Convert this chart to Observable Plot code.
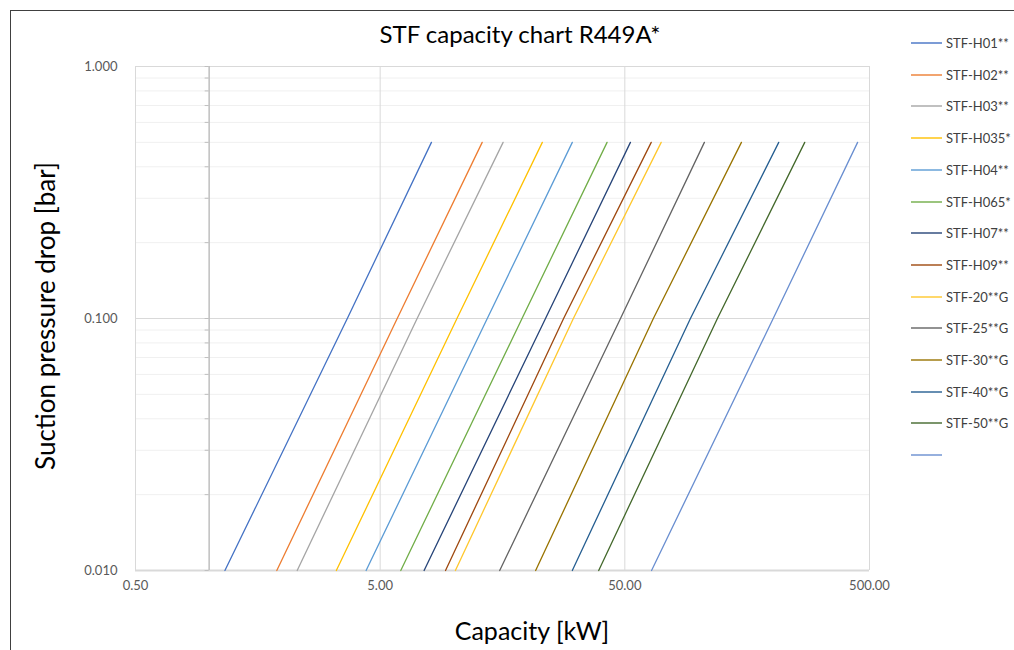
<!DOCTYPE html>
<html>
<head>
<meta charset="utf-8">
<script src="https://cdn.jsdelivr.net/npm/d3@7"></script>
<script src="https://cdn.jsdelivr.net/npm/@observablehq/plot@0.6"></script>
<style>
  html, body { margin: 0; padding: 0; background: #fff; }
  body { width: 1014px; height: 650px; position: relative; overflow: hidden; font-family: Lato, "Open Sans", sans-serif; }
  #frame { position: absolute; left: 10px; top: 10px; width: 1100px; height: 700px; border-left: 1.5px solid #404040; border-top: 1.5px solid #404040; }
  #chart { position: absolute; left: 0; top: 0; }
  #title { position: absolute; left: 0; width: 1040px; top: 19px; text-align: center; font-size: 24px; color: #000; }
  #ytitle { position: absolute; left: 45px; top: 316px; transform: translate(-50%, -50%) rotate(-90deg); white-space: nowrap; font-size: 26px; color: #000; }
  #xtitle { position: absolute; left: 532px; top: 630px; transform: translate(-50%, -50%); white-space: nowrap; font-size: 25px; color: #000; }
  #legend { position: absolute; left: 911px; top: 0; }
  .item { position: absolute; left: 0; height: 16px; white-space: nowrap; font-size: 13px; color: #404040; }
  .item svg { position: absolute; left: 0; top: 6px; }
  .item .lb { position: absolute; left: 35px; top: 0; line-height: 16px; }
</style>
</head>
<body>
<div id="frame"></div>
<div id="chart"></div>
<div id="title">STF capacity chart R449A*</div>
<div id="ytitle">Suction pressure drop [bar]</div>
<div id="xtitle">Capacity [kW]</div>
<div id="legend"></div>
<script>
// Series names (last one is unnamed in the original)
const seriesNames = ["STF-H01**","STF-H02**","STF-H03**","STF-H035*","STF-H04**","STF-H065*","STF-H07**","STF-H09**","STF-20**G","STF-25**G","STF-30**G","STF-40**G","STF-50**G",""];
const seriesColors = ["#4472C4","#ED7D31","#A5A5A5","#FFC000","#5B9BD5","#70AD47","#264478","#9E480E","#FFC72C","#636363","#997300","#255E91","#43682B","#698ED0"];
// Suction pressure drop [bar] at which capacity is read
const pressureDrops = [0.01, 0.1, 0.5];
// Capacity [kW] per series at each pressure drop
const capH01  = [1.16, 3.67, 8.1];
const capH02  = [1.89, 5.87, 13.06];
const capH03  = [2.29, 7.08, 15.9];
const capH035 = [3.31, 10.3, 23.0];
const capH04  = [4.38, 13.7, 30.5];
const capH065 = [6.07, 19.0, 42.3];
const capH07  = [7.56, 23.7, 52.7];
const capH09  = [9.25, 28.1, 64.1];
const cap20G  = [10.15, 30.8, 70.4];
const cap25G  = [15.4, 48.0, 105.7];
const cap30G  = [21.6, 65.4, 149.8];
const cap40G  = [30.5, 92.7, 212.8];
const cap50G  = [39.1, 119.5, 271.8];
const capLast = [64.3, 202, 447];
const capacities = [capH01, capH02, capH03, capH035, capH04, capH065, capH07, capH09, cap20G, cap25G, cap30G, cap40G, cap50G, capLast];

const xTicks = [0.5, 5, 50, 500];
const yTicks = [0.01, 0.1, 1];
const yMinor = [0.02,0.03,0.04,0.05,0.06,0.07,0.08,0.09,0.2,0.3,0.4,0.5,0.6,0.7,0.8,0.9];
const yAllTicks = [0.01,0.02,0.03,0.04,0.05,0.06,0.07,0.08,0.09,0.1,0.2,0.3,0.4,0.5,0.6,0.7,0.8,0.9,1];

const rows = [];
capacities.forEach((caps, i) => {
  caps.forEach((c, j) => rows.push({series: i, name: seriesNames[i], cap: c, dp: pressureDrops[j]}));
});

const chart = Plot.plot({
  width: 1014,
  height: 650,
  marginLeft: 135,
  marginRight: 145,
  marginTop: 66,
  marginBottom: 80,
  style: {fontFamily: "Lato, 'Open Sans', sans-serif", fontSize: "13px", background: "transparent", overflow: "visible"},
  x: {type: "log", domain: [0.5, 500], axis: null},
  y: {type: "log", domain: [0.01, 1], axis: null},
  marks: [
    Plot.ruleY(yMinor, {stroke: "#f0f0f0", strokeWidth: 1}),
    Plot.ruleY([0.1, 1], {stroke: "#d9d9d9", strokeWidth: 1}),
    Plot.ruleX(xTicks, {stroke: "#d9d9d9", strokeWidth: 1}),
    Plot.ruleY([0.01], {stroke: "#d9d9d9", strokeWidth: 2}),
    Plot.ruleX([1], {stroke: "#bfbfbf", strokeWidth: 1.5}),
    // y-axis tick marks on the left of the axis crossing at x = 1
    Plot.ruleY(yAllTicks, {x1: 0.963, x2: 1, stroke: "#bfbfbf", strokeWidth: 1}),
    Plot.line(rows, {x: "cap", y: "dp", z: "series", stroke: d => seriesColors[d.series], strokeWidth: 1.3}),
    // x tick labels
    Plot.text(xTicks, {x: d => d, frameAnchor: "bottom", dy: 19, text: d => d3.format(".2f")(d), fill: "#595959", fontSize: 13}),
    // y tick labels
    Plot.text(yTicks, {y: d => d, frameAnchor: "left", dx: -18, textAnchor: "end", text: d => d3.format(".3f")(d), fill: "#595959", fontSize: 13})
  ]
});
document.getElementById("chart").appendChild(chart);

const legend = document.getElementById("legend");
const ns = "http://www.w3.org/2000/svg";
seriesNames.forEach((n, i) => {
  const it = document.createElement("div");
  it.className = "item";
  it.style.top = (35 + i * 31.7) + "px";
  const svg = document.createElementNS(ns, "svg");
  svg.setAttribute("width", "32");
  svg.setAttribute("height", "4");
  const ln = document.createElementNS(ns, "line");
  ln.setAttribute("x1", "0"); ln.setAttribute("x2", "31");
  ln.setAttribute("y1", "2"); ln.setAttribute("y2", "2");
  ln.setAttribute("stroke", seriesColors[i]);
  ln.setAttribute("stroke-width", "1.4");
  svg.appendChild(ln);
  const lb = document.createElement("div");
  lb.className = "lb";
  lb.textContent = n;
  it.appendChild(svg); it.appendChild(lb);
  legend.appendChild(it);
});
</script>
</body>
</html>
